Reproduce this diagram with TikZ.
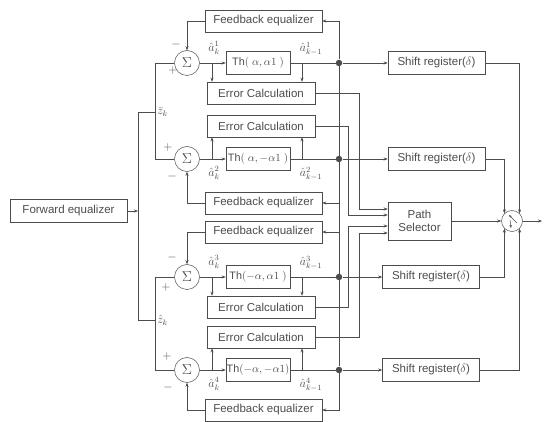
\documentclass[tikz,border=0pt]{standalone}
\usepackage{amsmath,amssymb}
\usepackage{fontspec}
\setmainfont{Liberation Sans}
\usetikzlibrary{arrows.meta,calc}

\begin{document}
\begin{tikzpicture}[
    x=1pt, y=-1pt,
    color=black!70,
    line width=0.5pt,
    font=\fontsize{11.5}{13}\selectfont,
    inner sep=2pt, %default node padding
    box/.style={draw,rectangle,minimum height=22pt},
    fbbox/.style={box,minimum width=117pt},
    ecbox/.style={box,minimum width=108pt},
    thbox/.style={box,minimum width=64pt,minimum height=23pt,inner sep=0.5pt,
        font=\fontsize{10.8}{12}\selectfont},
    srbox/.style={box,minimum width=97pt,minimum height=23pt},
    sumc/.style={circle,draw,minimum size=25pt,inner sep=0pt},
    dotc/.style={circle,fill,minimum size=6.5pt,inner sep=0pt},
    sgn/.style={inner sep=0pt},
    lbl/.style={inner sep=0pt},
    >={Stealth[length=4pt,width=3pt]},
    ]

    \useasboundingbox (0,0) rectangle (547,422);

    %forward equalizer and bus
    \node[box,minimum width=117pt,minimum height=23pt] (fwd) at (68.5,211) {Forward equalizer};
    \coordinate (bf) at (138,211);
    \coordinate (bt) at (138,112);
    \coordinate (bb) at (138,320);
    \coordinate (vt) at (155,112);
    \coordinate (vb) at (155,320);
    \node[right,inner sep=2pt] (zt) at (vt) {$\bar{z}_k$};
    \node[right,inner sep=2pt] (zb) at (vb) {$\hat{z}_k$};

    %branch 1
    \node[fbbox] (fb1) at (263.5,21) {Feedback equalizer};
    \node[sumc] (sum1) at (187,63) {\Large$\Sigma$};
    \node[thbox] (th1) at (258,63) {Th$(\;\alpha,\alpha1\;)$};
    \node[ecbox] (ec1) at (261,93) {Error Calculation};
    \node[dotc] (d1) at (339,63) {};
    \node[srbox] (sr1) at (436.5,63) {Shift register($\delta$)};
    \node[sgn] (m1) at (176,45) {$-$};
    \node[sgn] (p1) at (173,71) {$+$};
    \node[lbl] (a1) at (214,48) {$\hat{a}_k^1$};
    \node[lbl] (b1) at (311,49) {$\hat{a}_{k-1}^1$};

    %branch 2
    \node[ecbox] (ec2) at (261,126) {Error Calculation};
    \node[sumc] (sum2) at (187,159) {\Large$\Sigma$};
    \node[thbox] (th2) at (258,159) {Th$(\;\alpha,-\alpha1\;)$};
    \node[fbbox] (fb2) at (263.5,203) {Feedback equalizer};
    \node[dotc] (d2) at (339,159) {};
    \node[srbox] (sr2) at (436.5,159) {Shift register($\delta$)};
    \node[sgn] (p2) at (168,148) {$+$};
    \node[sgn] (m2) at (172,177) {$-$};
    \node[lbl] (a2) at (214,173) {$\hat{a}_k^2$};
    \node[lbl] (b2) at (311,174) {$\hat{a}_{k-1}^2$};

    %branch 3
    \node[fbbox] (fb3) at (263.5,232) {Feedback equalizer};
    \node[sumc] (sum3) at (187,277) {\Large$\Sigma$};
    \node[thbox] (th3) at (258,277) {Th$(-\alpha,\alpha1\;)$};
    \node[ecbox] (ec3) at (261,307) {Error Calculation};
    \node[dotc] (d3) at (339,277) {};
    \node[srbox] (sr3) at (431,277) {Shift register($\delta$)};
    \node[sgn] (m3) at (172,258) {$-$};
    \node[sgn] (p3) at (166,288) {$+$};
    \node[lbl] (a3) at (214,262) {$\hat{a}_k^3$};
    \node[lbl] (b3) at (311,263) {$\hat{a}_{k-1}^3$};

    %branch 4
    \node[ecbox] (ec4) at (261,337) {Error Calculation};
    \node[sumc] (sum4) at (187,370) {\Large$\Sigma$};
    \node[thbox] (th4) at (258,370) {Th$(-\alpha,-\alpha1)$};
    \node[fbbox] (fb4) at (263.5,410) {Feedback equalizer};
    \node[dotc] (d4) at (339,370) {};
    \node[srbox] (sr4) at (431,370) {Shift register($\delta$)};
    \node[sgn] (p4) at (167,357) {$+$};
    \node[sgn] (m4) at (168,388) {$-$};
    \node[lbl] (a4) at (214,384) {$\hat{a}_k^4$};
    \node[lbl] (b4) at (311,385) {$\hat{a}_{k-1}^4$};

    %path selector and switch
    \node[box,minimum width=63pt,minimum height=38pt,align=center] (ps) at (419.5,221) {Path\\Selector};
    \node[circle,draw,minimum size=21pt,inner sep=0pt] (sw) at (512,221) {};
    \coordinate (out) at (542,221);

    %bus wiring
    \draw[->] (fwd) -- (bf);
    \draw (bt) -- (bb);
    \draw (bt) -- (vt);
    \draw (bb) -- (vb);
    \draw (vt) |- (sum1);
    \draw (vt) |- (sum2);
    \draw (vb) |- (sum3);
    \draw (vb) |- (sum4);

    %summers to decision blocks
    \coordinate (j1) at (212,63);
    \coordinate (j2) at (212,159);
    \coordinate (j3) at (212,277);
    \coordinate (j4) at (212,370);
    \draw[->] (sum1) -- (th1);
    \draw[->] (sum2) -- (th2);
    \draw[->] (sum3) -- (th3);
    \draw[->] (sum4) -- (th4);
    \draw[->] (j1) -- (j1 |- ec1.north);
    \draw[->] (j2) -- (j2 |- ec2.south);
    \draw[->] (j3) -- (j3 |- ec3.north);
    \draw[->] (j4) -- (j4 |- ec4.south);

    %decisions
    \coordinate (k1) at (302,63);
    \coordinate (k2) at (302,159);
    \coordinate (k3) at (302,277);
    \coordinate (k4) at (302,370);
    \draw (th1) -- (d1);
    \draw (th2) -- (d2);
    \draw (th3) -- (d3);
    \draw (th4) -- (d4);
    \draw[->] (k1) -- (k1 |- ec1.north);
    \draw[->] (k2) -- (k2 |- ec2.south);
    \draw[->] (k3) -- (k3 |- ec3.north);
    \draw[->] (k4) -- (k4 |- ec4.south);

    %feedback loops
    \draw (d1) -- (d4);
    \draw[->] (d1) |- (fb1);
    \draw[->] (d2) |- (fb2);
    \draw[->] (d3) |- (fb3);
    \draw[->] (d4) |- (fb4);
    \draw[->] (fb1) -| (sum1);
    \draw[->] (fb2) -| (sum2);
    \draw[->] (fb3) -| (sum3);
    \draw[->] (fb4) -| (sum4);

    %shift registers
    \draw[->] (d1) -- (sr1);
    \draw[->] (d2) -- (sr2);
    \draw[->] (d3) -- (sr3);
    \draw[->] (d4) -- (sr4);
    \draw[->] (sr1) -| (sw.45);
    \draw[->] (sr2) -| (sw.135);
    \draw[->] (sr3) -| (sw.225);
    \draw[->] (sr4) -| (sw.315);

    %errors to path selector
    \coordinate (c1) at (359,209);
    \coordinate (c2) at (348,215);
    \coordinate (c3) at (348,226);
    \coordinate (c4) at (359,233);
    \draw[->] (ec1) -| (c1) -- (c1 -| ps.west);
    \draw[->] (ec2) -| (c2) -- (c2 -| ps.west);
    \draw[->] (ec3) -| (c3) -- (c3 -| ps.west);
    \draw[->] (ec4) -| (c4) -- (c4 -| ps.west);

    %switch
    \draw[->] (ps) -- (sw);
    \draw[->] (sw) -- (out);
    \draw[-{Stealth[length=3pt,width=2.5pt]}] ($(sw)+(5,2)$) -- ($(sw)+(-3,-6)$);
    \draw[-{Stealth[length=3pt,width=2.5pt]}] ($(sw)+(-2,-1)$) -- ($(sw)+(-1,7)$);

\end{tikzpicture}
\end{document}
